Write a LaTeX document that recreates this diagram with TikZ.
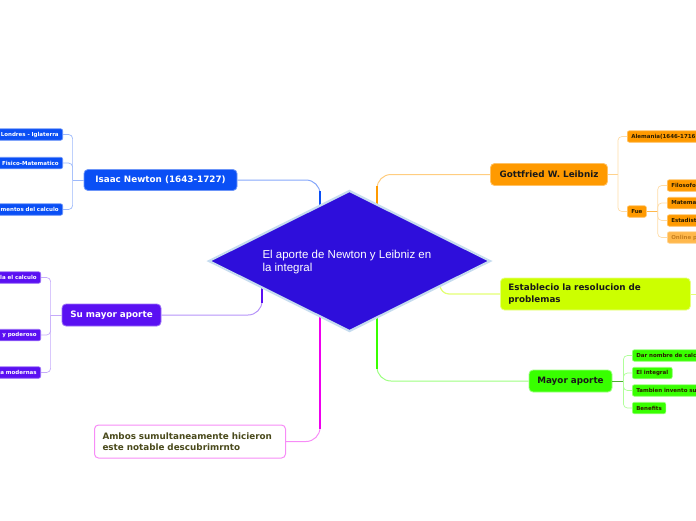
\documentclass[tikz,border=0pt]{standalone}
\usepackage{fontspec}
\setmainfont{DejaVu Sans}
\newfontfamily\titlefont{Liberation Sans}
\usetikzlibrary{shapes.geometric, positioning}
\definecolor{mmBlue}{HTML}{0A4FF5}
\definecolor{mmPurple}{HTML}{5A10F2}
\definecolor{mmCore}{HTML}{2E0EDB}
\definecolor{mmEdge}{HTML}{C6DCEF}
\definecolor{mmOrange}{HTML}{FF9A00}
\definecolor{mmFade}{HTML}{C8801E}
\definecolor{mmLime}{HTML}{CCFF00}
\definecolor{mmGreen}{HTML}{38FF00}
\definecolor{mmPink}{HTML}{EE00EE}
\definecolor{mmOlive}{HTML}{4A4A1C}
\definecolor{mmInk}{HTML}{2B1D00}

\begin{document}
\begin{tikzpicture}[x=1pt,y=-1pt,
  topic/.style={rounded corners=4pt, line width=0.8pt, inner sep=0pt, minimum height=21pt,
    font=\fontsize{8.8}{11.5}\selectfont\bfseries},
  leaf/.style={rounded corners=2pt, line width=0.6pt, inner xsep=4pt, inner ysep=0pt,
    minimum height=11.5pt, font=\fontsize{5.5}{6}\selectfont\bfseries},
  leafL/.style={leaf, text width=80pt, align=right, anchor=east},
  leafR/.style={leaf, text width=80pt, align=left, anchor=west},
  twig/.style={line width=0.7pt, rounded corners=4pt},
  limb/.style={line width=1pt, rounded corners=14pt},
  trunk/.style={line width=2.7pt}]
\clip (0,0) rectangle (696,520);

% main topics
\node[topic, fill=mmBlue, draw=mmBlue!60!white, text=white, minimum width=153pt] (newton) at (160.5,180) {Isaac Newton (1643-1727)};
\node[topic, fill=mmPurple, draw=mmPurple!60!white, text=white, minimum width=99pt, minimum height=22pt] (suma) at (111.5,315) {Su mayor aporte};
\node[topic, fill=mmOrange, draw=mmOrange!60!white, text=black!90, minimum width=117pt, minimum height=22pt] (leibniz) at (549,174.5) {Gottfried W. Leibniz};
\node[topic, fill=mmLime, draw=mmLime!50!white, text=black!90, text width=174pt, align=left, inner xsep=8pt, minimum height=32pt, anchor=west] (est) at (500,294) {Establecio la resolucion de\\problemas};
\node[topic, fill=mmGreen, draw=mmGreen!50!white, text=black!90, minimum width=83pt, minimum height=22pt] (mayor) at (570.5,381) {Mayor aporte};
\node[topic, fill=white, draw=mmPink!45, line width=1pt, text=mmOlive, text width=175pt, align=left, inner xsep=8pt, minimum height=33pt, anchor=east] (ambos) at (286,441.5) {Ambos sumultaneamente hicieron\\este notable descubrimrnto};

% Newton leaves
\node[leafL, fill=mmBlue, draw=mmBlue!60!white, text=white] (londres) at (63,134.5) {Londres - Iglaterra};
\node[leafL, fill=mmBlue, draw=mmBlue!60!white, text=white] (fisico) at (63,163) {Fisico-Matematico};
\node[leafL, fill=mmBlue, draw=mmBlue!60!white, text=white] (mentos) at (63,209.5) {mentos del calculo};

% aporte leaves
\node[leafL, fill=mmPurple, draw=mmPurple!60!white, text=white] (calculo) at (41,277.5) {la el calculo};
\node[leafL, fill=mmPurple, draw=mmPurple!60!white, text=white] (poderoso) at (41,335) {y poderoso};
\node[leafL, fill=mmPurple, draw=mmPurple!60!white, text=white] (modernas) at (41,372.5) {a modernas};

% Leibniz leaves
\node[leafR, fill=mmOrange, draw=mmOrange!60!white, text=mmInk] (alemania) at (627,136.5) {Alemania(1646-1716};
\node[leaf, fill=mmOrange, draw=mmOrange!60!white, text=mmInk, anchor=west] (fue) at (627,211.5) {Fue};
\node[leafR, fill=mmOrange, draw=mmOrange!60!white, text=mmInk] (filosofo) at (667,185.5) {Filosofo};
\node[leafR, fill=mmOrange, draw=mmOrange!60!white, text=mmInk] (matema) at (667,203) {Matema};
\node[leafR, fill=mmOrange, draw=mmOrange!60!white, text=mmInk] (estadist) at (667,220.5) {Estadist};
\node[leafR, fill=mmOrange!70!white, draw=mmOrange!40!white, text=mmFade] (online) at (667,237.5) {Online p};

% Mayor aporte leaves
\node[leafR, fill=mmGreen, draw=mmGreen!50!white, text=mmInk] (nombre) at (632,355.5) {Dar nombre de calc};
\node[leaf, fill=mmGreen, draw=mmGreen!50!white, text=mmInk, anchor=west] (integral) at (632,373) {El integral};
\node[leafR, fill=mmGreen, draw=mmGreen!50!white, text=mmInk] (invento) at (632,390.5) {Tambien invento su};
\node[leaf, fill=mmGreen, draw=mmGreen!50!white, text=mmInk, anchor=west] (benefits) at (632,408) {Benefits};

% leaf brackets
\path (newton.west) ++(-11,0) coordinate (nJ);
\draw[twig, mmBlue!40] (newton.west) -- (nJ);
\foreach \c in {londres,fisico,mentos} \draw[twig, mmBlue!40] (nJ) |- (\c.east);
\path (suma.west) ++(-11,0) coordinate (sJ);
\draw[twig, mmPurple!35] (suma.west) -- (sJ);
\foreach \c in {calculo,poderoso,modernas} \draw[twig, mmPurple!35] (sJ) |- (\c.east);
\path (leibniz.east) ++(10,0) coordinate (lJ);
\draw[twig, mmOrange!45] (leibniz.east) -- (lJ);
\foreach \c in {alemania,fue} \draw[twig, mmOrange!35] (lJ) |- (\c.west);
\path (fue.east) ++(11,0) coordinate (fJ);
\draw[twig, mmOrange!70] (fue.east) -- (fJ);
\foreach \c in {filosofo,matema,estadist,online} \draw[twig, mmOrange!35] (fJ) |- (\c.west);
\path (mayor.east) ++(11,0) coordinate (mJ);
\draw[twig, mmGreen!60!black!80] (mayor.east) -- (mJ);
\foreach \c in {nombre,integral,invento,benefits} \draw[twig, mmGreen!40] (mJ) |- (\c.west);

% branches to the centre
\coordinate (nIn) at (320,215);  \coordinate (nKn) at (320,191);
\coordinate (lIn) at (377,215);  \coordinate (lKn) at (377,186);
\coordinate (sIn) at (262,275);  \coordinate (sKn) at (262,303);
\coordinate (aIn) at (320,305);  \coordinate (aKn) at (320,429);
\coordinate (mIn) at (377,305);  \coordinate (mKn) at (377,369);
\coordinate (eIn) at (440,275);
\coordinate (eOut) at (704,294);
\draw[limb, mmBlue!50] (newton.east) -| (nIn);
\draw[trunk, mmBlue] (nIn) -- (nKn);
\draw[limb, mmOrange!50] (leibniz.west) -| (lIn);
\draw[trunk, mmOrange] (lIn) -- (lKn);
\draw[limb, mmPurple!45] (suma.east) -| (sIn);
\draw[trunk, mmPurple] (sIn) -- (sKn);
\draw[limb, mmPink!45] (ambos.east) -| (aIn);
\draw[trunk, mmPink] (aIn) -- (aKn);
\draw[limb, mmGreen!50] (mayor.west) -| (mIn);
\draw[trunk, mmGreen] (mIn) -- (mKn);
\draw[line width=1.2pt, rounded corners=9pt, mmLime!55] (est.west) -| (eIn);
\draw[line width=1pt, mmLime!55] (est.east) -- (eOut);

% centre
\node[diamond, fill=mmCore, draw=mmEdge, line width=2.2pt, minimum width=282pt, minimum height=141pt, inner sep=0pt] (core) at (349.5,261) {};
\node[font=\titlefont\fontsize{11.5}{13}\selectfont, text=white, align=left, anchor=west] (coreText) at (259,262) {El aporte de Newton y Leibniz en\\la integral};
\end{tikzpicture}
\end{document}
